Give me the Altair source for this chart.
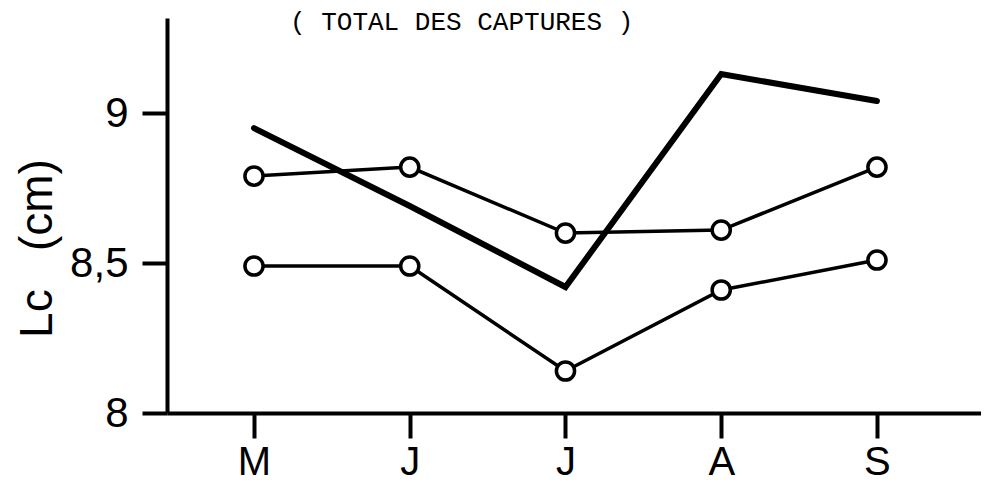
import json
import altair as alt
import pandas as pd

months = ["M", "J", "J", "A", "S"]
month_index = [0, 1, 2, 3, 4]
series_upper = [8.79, 8.82, 8.60, 8.61, 8.82]
series_lower = [8.49, 8.49, 8.14, 8.41, 8.51]
series_total = [8.95, 8.69, 8.42, 9.13, 9.04]
title_text = ["( TOTAL DES CAPTURES )"]
y_title = "Lc\u00a0\u00a0\u00a0(cm)"

rows = []
for name, vals in [("upper", series_upper), ("lower", series_lower), ("total", series_total)]:
    for i, m, v in zip(month_index, months, vals):
        rows.append({"series": name, "i": i, "month": m, "v": v})
df = pd.DataFrame(rows)

x_enc = alt.X(
    "i:Q",
    title=None,
    scale=alt.Scale(domain=[-0.5586, 4.668], nice=False, zero=False),
    axis=alt.Axis(
        values=month_index,
        labelExpr=json.dumps(months) + "[datum.value]",
        tickSize=25,
        tickWidth=4,
        domainWidth=4,
        labelPadding=4,
        labelFontSize=40,
        grid=False,
    ),
)
y_enc = alt.Y(
    "v:Q",
    title=y_title,
    scale=alt.Scale(domain=[8, 9.317], nice=False, zero=False),
    axis=alt.Axis(
        values=[8, 8.5, 9],
        labelExpr="replace(format(datum.value, '~g'), '.', ',')",
        tickSize=25,
        tickWidth=4,
        domainWidth=4,
        labelPadding=14,
        labelFontSize=42,
        grid=False,
        titleFontSize=46,
        titleFontWeight="normal",
        titleX=-116,
        titleY=230,
        titleBaseline="alphabetic",
        titleAlign="center",
        titleAngle=-90,
    ),
)

base = alt.Chart(df)

thick = base.transform_filter(alt.datum.series == "total").mark_line(
    color="black", strokeWidth=6, strokeCap="round"
).encode(x=x_enc, y=y_enc)

thin = base.transform_filter(alt.datum.series != "total").mark_line(
    color="black", strokeWidth=3.5
).encode(x=x_enc, y=y_enc, detail="series:N")

dots = base.transform_filter(alt.datum.series != "total").mark_circle(
    size=330, fill="white", stroke="black", strokeWidth=3.5, opacity=1
).encode(x=x_enc, y=y_enc)

title_layer = alt.Chart(pd.DataFrame({"t": title_text})).mark_text(
    font="Liberation Mono",
    fontSize=26,
    color="black",
    align="left",
    baseline="alphabetic",
).encode(x=alt.value(123), y=alt.value(12), text="t:N")

chart = alt.layer(thick, thin, dots, title_layer).properties(
    width=814,
    height=395,
    autosize="none",
    padding={"left": 159, "top": 10, "right": 0, "bottom": 70},
).configure_view(stroke=None).configure_axis(
    domainColor="black",
    tickColor="black",
    labelColor="black",
    titleColor="black",
    labelFont="Liberation Sans",
    titleFont="Liberation Sans",
)

chart.save("out.html", embed_options={"renderer": "svg", "actions": False})
